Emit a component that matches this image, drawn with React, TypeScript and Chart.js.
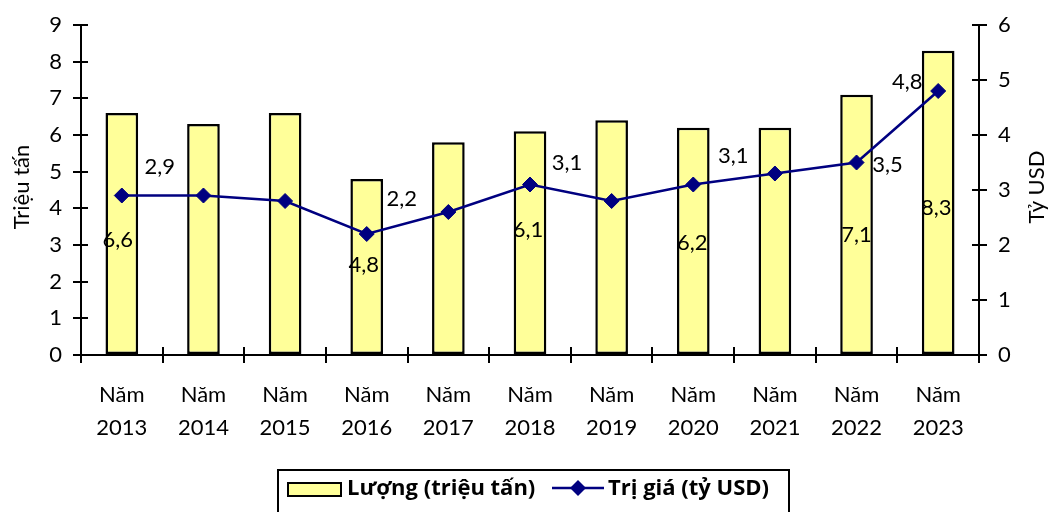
import React, { useEffect, useRef } from "react";
import { Chart, registerables } from "chart.js";

Chart.register(...registerables);

// ---------- DATA ----------
const categoryPrefix = "Năm";
const years = ["2013", "2014", "2015", "2016", "2017", "2018", "2019", "2020", "2021", "2022", "2023"];
const volume = [6.6, 6.3, 6.6, 4.8, 5.8, 6.1, 6.4, 6.2, 6.2, 7.1, 8.3];
const tradeValue = [2.9, 2.9, 2.8, 2.2, 2.6, 3.1, 2.8, 3.1, 3.3, 3.5, 4.8];
const leftTicks = [0, 1, 2, 3, 4, 5, 6, 7, 8, 9];
const rightTicks = [0, 1, 2, 3, 4, 5, 6];
const volumeLabelShown = [true, false, false, true, false, true, false, true, false, true, true];
const valueLabelShown = [true, false, false, true, false, true, false, true, false, true, true];
const seriesNames = ["Lượng (triệu tấn)", "Trị giá (tỷ USD)"];
const axisTitles = ["Triệu tấn", "Tỷ USD"];

// ---------- STYLE ----------
const FONT = "Lato";
const FS = 22;
const LEGEND_FONT = "'Open Sans'";
const LEGEND_FS = 22;
const BAR_FILL = "#FFFF99";
const LINE_COLOR = "#000080";
// label offsets (pixels) relative to the mark's anchor
const volumeLabelOffsets: number[][] = [
  [-4, 127], [0, 0], [0, 0], [-3, 86], [0, 0], [-2, 99], [0, 0], [-1, 115], [0, 0], [0, 140], [-2, 157],
];
const valueLabelOffsets: number[][] = [
  [38, -29], [0, 0], [0, 0], [35, -35], [0, 0], [37, -22], [0, 0], [40, -29], [0, 0], [31, 2], [-31, -9],
];

const fmt = (v: number) => v.toFixed(1).replace(".", ",");

const drawDiamond = (ctx: CanvasRenderingContext2D, x: number, y: number, r: number) => {
  ctx.beginPath();
  ctx.moveTo(x, y - r);
  ctx.lineTo(x + r, y);
  ctx.lineTo(x, y + r);
  ctx.lineTo(x - r, y);
  ctx.closePath();
  ctx.fill();
};

const extrasPlugin = {
  id: "extras",
  afterDatasetsDraw(chart: any) {
    const ctx: CanvasRenderingContext2D = chart.ctx;
    ctx.save();
    ctx.font = `${FS}px ${FONT}`;
    ctx.fillStyle = "#000";
    ctx.textAlign = "center";
    ctx.textBaseline = "middle";
    const barMeta = chart.getDatasetMeta(0);
    barMeta.data.forEach((el: any, i: number) => {
      if (!volumeLabelShown[i]) return;
      const [dx, dy] = volumeLabelOffsets[i];
      ctx.fillText(fmt(volume[i]), el.x + dx, el.y + dy);
    });
    const lineMeta = chart.getDatasetMeta(1);
    lineMeta.data.forEach((el: any, i: number) => {
      if (!valueLabelShown[i]) return;
      const [dx, dy] = valueLabelOffsets[i];
      ctx.fillText(fmt(tradeValue[i]), el.x + dx, el.y + dy);
    });
    ctx.restore();
  },
  afterDraw(chart: any) {
    const ctx: CanvasRenderingContext2D = chart.ctx;
    const area = chart.chartArea;
    const sy = chart.scales.y;
    const sy1 = chart.scales.y1;
    ctx.save();
    // inner tick halves
    ctx.strokeStyle = "#000";
    ctx.lineWidth = 2;
    ctx.beginPath();
    leftTicks.forEach((v) => {
      const y = Math.round(sy.getPixelForValue(v));
      ctx.moveTo(area.left, y);
      ctx.lineTo(area.left + 7, y);
    });
    rightTicks.forEach((v) => {
      const y = Math.round(sy1.getPixelForValue(v));
      ctx.moveTo(area.right, y);
      ctx.lineTo(area.right - 7, y);
    });
    const n = years.length;
    for (let i = 0; i <= n; i++) {
      const x = Math.round(area.left + ((area.right - area.left) * i) / n);
      ctx.moveTo(x, area.bottom);
      ctx.lineTo(x, area.bottom - 8);
    }
    ctx.stroke();

    // axis titles
    ctx.fillStyle = "#000";
    ctx.font = `${FS}px ${FONT}`;
    ctx.textAlign = "center";
    ctx.textBaseline = "middle";
    const midY = (area.top + area.bottom) / 2 - 3;
    ctx.save();
    ctx.translate(22, midY);
    ctx.rotate(-Math.PI / 2);
    ctx.fillText(axisTitles[0], 0, 0);
    ctx.restore();
    ctx.save();
    ctx.translate(1037, midY);
    ctx.rotate(-Math.PI / 2);
    ctx.fillText(axisTitles[1], 0, 0);
    ctx.restore();

    // legend
    const lx = 278, ly = 470, lw = 511, lh = 50;
    ctx.lineWidth = 2;
    ctx.strokeStyle = "#000";
    ctx.strokeRect(lx, ly, lw, lh);
    ctx.fillStyle = BAR_FILL;
    ctx.fillRect(288, 483, 53, 13);
    ctx.strokeRect(288, 483, 53, 13);
    ctx.fillStyle = "#000";
    ctx.font = `bold ${LEGEND_FS}px ${LEGEND_FONT}`;
    ctx.textAlign = "left";
    ctx.fillText(seriesNames[0], 347, 489);
    ctx.strokeStyle = LINE_COLOR;
    ctx.lineWidth = 2.5;
    ctx.beginPath();
    ctx.moveTo(552, 488);
    ctx.lineTo(604, 488);
    ctx.stroke();
    ctx.fillStyle = LINE_COLOR;
    drawDiamond(ctx, 578, 488, 8);
    ctx.fillStyle = "#000";
    ctx.fillText(seriesNames[1], 608, 489);
    ctx.restore();
  },
};

export default function App() {
  const ref = useRef<HTMLCanvasElement | null>(null);

  useEffect(() => {
    if (!ref.current) return;
    const chart = new Chart(ref.current, {
      type: "bar",
      data: {
        labels: years.map((y) => [categoryPrefix, y]),
        datasets: [
          {
            type: "bar",
            label: seriesNames[0],
            data: volume,
            backgroundColor: BAR_FILL,
            borderColor: "#000",
            borderWidth: 2.5,
            borderSkipped: false,
            barPercentage: 0.4,
            categoryPercentage: 1,
            yAxisID: "y",
            order: 2,
          },
          {
            type: "line",
            label: seriesNames[1],
            data: tradeValue,
            borderColor: LINE_COLOR,
            backgroundColor: LINE_COLOR,
            borderWidth: 2.5,
            pointStyle: "rectRot",
            pointRadius: 7.5,
            pointBorderWidth: 1,
            pointBackgroundColor: LINE_COLOR,
            pointBorderColor: LINE_COLOR,
            tension: 0,
            yAxisID: "y1",
            order: 1,
          } as any,
        ],
      },
      options: {
        responsive: false,
        animation: false,
        events: [],
        layout: { padding: { top: 25, left: 0, right: 0, bottom: 0 } },
        plugins: {
          legend: { display: false },
          tooltip: { enabled: false },
          title: { display: false },
        },
        scales: {
          x: {
            type: "category",
            offset: true,
            grid: {
              offset: true,
              drawOnChartArea: false,
              drawTicks: true,
              tickLength: 8,
              color: "#000",
              lineWidth: 2,
            },
            border: { display: true, color: "#000", width: 2 },
            ticks: {
              color: "#000",
              font: { family: FONT, size: FS, lineHeight: 1.5 },
              padding: 15,
              maxRotation: 0,
              autoSkip: false,
            },
            afterFit: (s: any) => {
              s.height = 157;
            },
          },
          y: {
            type: "linear",
            position: "left",
            min: 0,
            max: 9,
            grid: {
              drawOnChartArea: false,
              drawTicks: true,
              tickLength: 8,
              color: "#000",
              lineWidth: 2,
            },
            border: { display: true, color: "#000", width: 2 },
            ticks: {
              color: "#000",
              font: { family: FONT, size: FS },
              padding: 11,
            },
            afterBuildTicks: (s: any) => {
              s.ticks = leftTicks.map((v) => ({ value: v }));
            },
            afterFit: (s: any) => {
              s.width = 81;
            },
          },
          y1: {
            type: "linear",
            position: "right",
            min: 0,
            max: 6,
            grid: {
              drawOnChartArea: false,
              drawTicks: true,
              tickLength: 8,
              color: "#000",
              lineWidth: 2,
            },
            border: { display: true, color: "#000", width: 2 },
            ticks: {
              color: "#000",
              font: { family: FONT, size: FS },
              padding: 11,
            },
            afterBuildTicks: (s: any) => {
              s.ticks = rightTicks.map((v) => ({ value: v }));
            },
            afterFit: (s: any) => {
              s.width = 73;
            },
          },
        },
      } as any,
      plugins: [extrasPlugin],
    });
    return () => chart.destroy();
  }, []);

  return (
    <div style={{ position: "fixed", left: 0, top: 0, width: 1052, height: 512, background: "#fff" }}>
      <canvas ref={ref} width={1052} height={512} style={{ display: "block" }} />
    </div>
  );
}
